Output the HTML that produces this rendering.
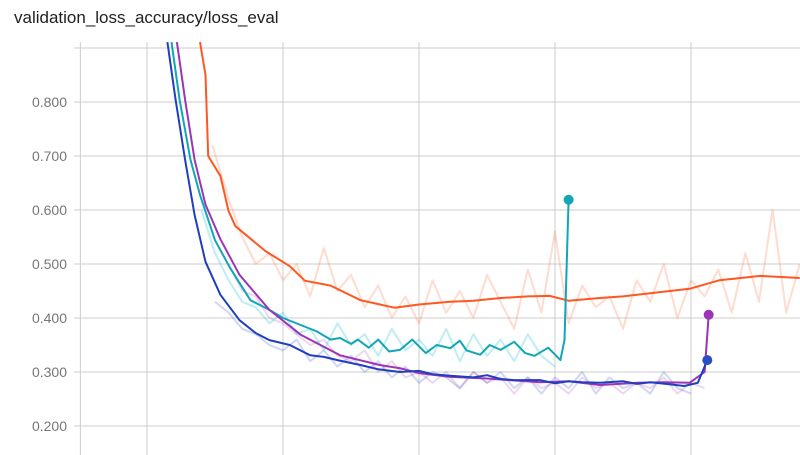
<!DOCTYPE html>
<html><head><meta charset="utf-8"><style>
body{margin:0;background:#fff;width:800px;height:455px;overflow:hidden;font-family:"Liberation Sans",sans-serif}
#title{position:absolute;left:14px;top:8px;font-size:17px;color:#212121}
svg{position:absolute;left:0;top:0}
</style></head><body>
<div id="title">validation_loss_accuracy/loss_eval</div>
<svg id="chart" width="800" height="455"></svg>
<script>
const yTicks=[0.2,0.3,0.4,0.5,0.6,0.7,0.8,0.9];
const yTickLabels=["0.200","0.300","0.400","0.500","0.600","0.700","0.800",""];
const xTicks=[-4.9,0,10,20,30,40];
const blueSteps=[1.5,2.1,2.8,3.5,4.3,5.4,6.8,8,9.0,10.5,12.0,13,14,15.7,17,18.6,20,21,22.3,24,25,26,27,28.9,30,31,32,33.3,35,36,37,38.5,39.5,40.5,41.2];
const blueVals=[0.911,0.804,0.693,0.591,0.504,0.443,0.396,0.372,0.359,0.35,0.331,0.328,0.322,0.313,0.305,0.3,0.302,0.296,0.293,0.29,0.294,0.287,0.285,0.285,0.279,0.283,0.281,0.28,0.283,0.278,0.281,0.277,0.274,0.28,0.322];
const purpleSteps=[2.2,2.8,3.5,4.3,5.4,6.8,9.0,11.3,14.2,17.1,18.6,20,22.3,25,28.9,31,33.3,36,38,39.9,41.0,41.3];
const purpleVals=[0.911,0.804,0.693,0.61,0.546,0.48,0.415,0.369,0.331,0.313,0.307,0.298,0.291,0.288,0.281,0.283,0.276,0.28,0.281,0.28,0.3,0.406];
const tealSteps=[1.8,2.4,3.2,3.9,5.0,6.1,7.6,9.0,10,11.3,12.5,13.5,14.2,15,15.5,16.3,17,17.8,18.6,19.5,20.5,21.3,22.3,23,23.5,24.5,25.2,26.0,27,27.8,28.5,29.5,30.4,30.7,31.0];
const tealVals=[0.911,0.804,0.693,0.628,0.544,0.493,0.433,0.415,0.4,0.387,0.375,0.36,0.363,0.352,0.36,0.345,0.36,0.338,0.341,0.36,0.335,0.35,0.344,0.358,0.34,0.332,0.35,0.341,0.356,0.335,0.33,0.345,0.322,0.359,0.619];
const orangeSteps=[3.9,4.3,4.5,5.4,6.0,6.5,8.7,10.5,11.6,13.5,15.7,18.2,20,22.3,24,26.0,28,29.6,31,33.3,35,37.0,39.9,42.1,45.1,48.0];
const orangeVals=[0.911,0.85,0.7,0.663,0.598,0.57,0.524,0.496,0.469,0.46,0.433,0.419,0.425,0.43,0.432,0.437,0.44,0.441,0.432,0.437,0.44,0.446,0.454,0.47,0.478,0.474];
const orangeRawSteps=[4.8,6,7,8,9,10,11,12,13,14,15,16,17,18,19,20,21,22,23,24,25,26,27,28,29,30,31,32,33,34,35,36,37,38,39,40,41,42,43,44,45,46,47,48];
const orangeRawVals=[0.72,0.62,0.55,0.5,0.52,0.47,0.5,0.44,0.53,0.45,0.48,0.42,0.46,0.4,0.44,0.39,0.47,0.41,0.45,0.4,0.48,0.43,0.38,0.49,0.41,0.56,0.39,0.46,0.42,0.44,0.38,0.47,0.43,0.5,0.4,0.47,0.44,0.49,0.41,0.52,0.43,0.6,0.41,0.5];
const blueRawSteps=[5,6,7,8,9,10,11,12,13,14,15,16,17,18,19,20,21,22,23,24,25,26,27,28,29,30,31,32,33,34,35,36,37,38,39,40];
const blueRawVals=[0.43,0.41,0.38,0.37,0.35,0.34,0.36,0.32,0.34,0.31,0.33,0.3,0.32,0.29,0.31,0.28,0.3,0.29,0.27,0.3,0.28,0.3,0.27,0.29,0.26,0.29,0.27,0.3,0.26,0.29,0.27,0.28,0.26,0.3,0.27,0.26];
const purpleRawSteps=[6,7,8,9,10,11,12,13,14,15,16,17,18,19,20,21,22,23,24,25,26,27,28,29,30,31,32,33,34,35,36,37,38,39,40,41];
const purpleRawVals=[0.5,0.45,0.44,0.4,0.39,0.37,0.35,0.36,0.33,0.32,0.34,0.3,0.32,0.29,0.3,0.28,0.3,0.27,0.3,0.28,0.29,0.26,0.29,0.27,0.28,0.26,0.29,0.27,0.28,0.26,0.28,0.27,0.29,0.26,0.28,0.27];
const tealRawSteps=[4,5,6,7,8,9,10,11,12,13,14,15,16,17,18,19,20,21,22,23,24,25,26,27,28,29,30];
const tealRawVals=[0.6,0.52,0.47,0.43,0.42,0.39,0.41,0.37,0.38,0.34,0.39,0.35,0.37,0.33,0.38,0.34,0.36,0.33,0.38,0.32,0.37,0.33,0.36,0.32,0.37,0.33,0.31];

const X=s=>147+s*13.6;
const Y=v=>102+(0.8-v)*540;
const svg=document.getElementById('chart');
const NS='http://www.w3.org/2000/svg';
function mk(t,a){const e=document.createElementNS(NS,t);for(const k in a)e.setAttribute(k,a[k]);svg.appendChild(e);return e;}
const defs=mk('defs',{});
const cp=document.createElementNS(NS,'clipPath');cp.setAttribute('id','clip');
const r=document.createElementNS(NS,'rect');r.setAttribute('x',74);r.setAttribute('y',42);r.setAttribute('width',726);r.setAttribute('height',413);
cp.appendChild(r);defs.appendChild(cp);
yTicks.forEach((v,i)=>{
 const l=mk('line',{x1:74,x2:800,y1:Y(v),y2:Y(v),stroke:'#ccc','stroke-width':1});
 
 
 if(yTickLabels[i]){const t=mk('text',{x:67,y:Y(v)+5,'text-anchor':'end','font-size':14,fill:'#777','font-family':'Liberation Sans, sans-serif'});t.textContent=yTickLabels[i];
 
 }
});
xTicks.forEach(s=>{const l=mk('line',{x1:X(s),x2:X(s),y1:42,y2:455,stroke:'#ccc','stroke-width':1});
 
 });
function line(xs,vs,color,w,op,name){
 const d=xs.map((s,i)=>(i?'L':'M')+X(s).toFixed(1)+','+Y(vs[i]).toFixed(1)).join('');
 const p=mk('path',{d:d,fill:'none',stroke:color,'stroke-width':w,opacity:op,'clip-path':'url(#clip)','stroke-linejoin':'round'});
 
 
}
line(orangeRawSteps,orangeRawVals,'#ff7043',2,0.25,'orange-raw-line');
line(blueRawSteps,blueRawVals,'#3f5fcf',2,0.25,'blue-raw-line');
line(purpleRawSteps,purpleRawVals,'#ab47bc',2,0.22,'purple-raw-line');
line(tealRawSteps,tealRawVals,'#26c6da',2,0.3,'teal-raw-line');
line(orangeSteps,orangeVals,'#ff5722',2,1,'orange-series-line');
line(tealSteps,tealVals,'#12a5b5',2,1,'teal-series-line');
line(purpleSteps,purpleVals,'#9c35b5',2,1,'purple-series-line');
line(blueSteps,blueVals,'#1f3fbf',2,1,'blue-series-line');
function dot(xs,vs,c,name){const i=xs.length-1;const e=mk('circle',{cx:X(xs[i]),cy:Y(vs[i]),r:5,fill:c});
 
 }
dot(tealSteps,tealVals,'#12a5b5','teal-end-dot');
dot(purpleSteps,purpleVals,'#9c35b5','purple-end-dot');
dot(blueSteps,blueVals,'#2a4fc4','blue-end-dot');
</script>
</body></html>
